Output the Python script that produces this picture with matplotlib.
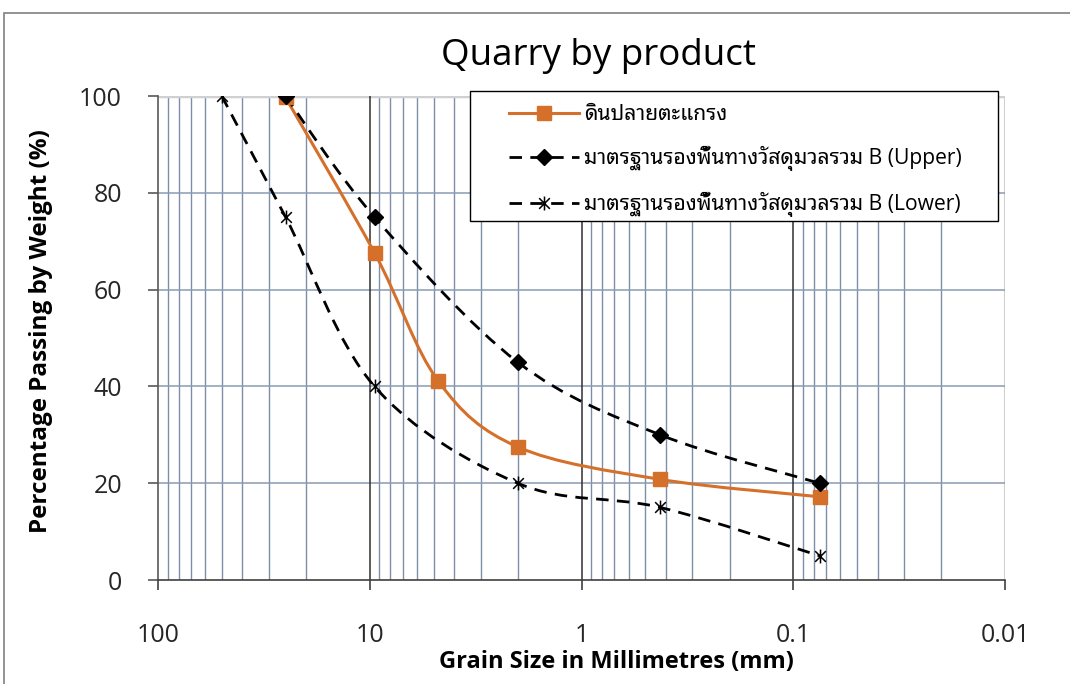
import matplotlib
matplotlib.use("Agg")
import matplotlib.pyplot as plt
import numpy as np
from matplotlib.path import Path
from matplotlib.patches import PathPatch, Rectangle
from matplotlib.lines import Line2D

plt.rcParams['font.family'] = ['Open Sans', 'Noto Sans Thai Looped', 'DejaVu Sans']

# sieve sizes (mm) and percent passing
size_sample = [25, 9.5, 4.75, 2.0, 0.425, 0.075]
pass_sample = [99.7, 67.6, 41.1, 27.5, 20.8, 17.2]
size_upper = [25, 9.5, 2.0, 0.425, 0.075]
pass_upper = [100, 75, 45, 30, 20]
size_lower = [50, 25, 9.5, 2.0, 0.425, 0.075]
pass_lower = [100, 75, 40, 20, 15, 5]

label_sample = "ดินปลายตะแกรง"
label_upper = "มาตรฐานรองพื้นทางวัสดุมวลรวม B (Upper)"
label_lower = "มาตรฐานรองพื้นทางวัสดุมวลรวม B (Lower)"

orange = "#D5702B"


def smooth_path(xs, ys):
    # bezier through the points (smoothed line), built in log-x space
    pts = np.column_stack([np.log10(xs), ys]).astype(float)
    n = len(pts)
    verts = [pts[0]]
    codes = [Path.MOVETO]
    for i in range(n - 1):
        p0 = pts[max(i - 1, 0)]
        p1 = pts[i]
        p2 = pts[i + 1]
        p3 = pts[min(i + 2, n - 1)]
        verts += [p1 + (p2 - p0) / 6, p2 - (p3 - p1) / 6, p2]
        codes += [Path.CURVE4] * 3
    verts = np.array(verts)
    verts[:, 0] = 10 ** verts[:, 0]
    return Path(verts, codes)


star = Path([(-1, -1), (1, 1), (-1, 1), (1, -1), (0, -1.3), (0, 1.3)],
            [Path.MOVETO, Path.LINETO, Path.MOVETO, Path.LINETO, Path.MOVETO, Path.LINETO])

fig = plt.figure(figsize=(10.7, 6.84), dpi=100)
ax = fig.add_axes([0.1477, 0.152, 0.7916, 0.7076])

ax.set_xscale("log")
ax.set_xlim(100, 0.01)
ax.set_ylim(0, 100)

# grid
for d in [100, 10, 1, 0.1]:
    for k in range(2, 10):
        ax.axvline(d * k / 10, color="#7D8EA8", lw=1.0, zorder=1)
for d in [10, 1, 0.1]:
    ax.axvline(d, color="#303030", lw=1.1, zorder=1.1)
ax.axvline(0.01, color="#D0D0D0", lw=1.5, zorder=1)
for v in [20, 40, 60, 80]:
    ax.axhline(v, color="#8A9BB5", lw=1.1, zorder=1)
ax.axhline(100, color="#D0D0D0", lw=2.5, zorder=1)

dash = (0, (4.5, 3))
ax.add_patch(PathPatch(smooth_path(size_lower, pass_lower), fill=False, ec="black",
                       lw=2, linestyle=dash, zorder=3))
ax.add_patch(PathPatch(smooth_path(size_sample, pass_sample), fill=False, ec=orange,
                       lw=2.2, zorder=4))
ax.add_patch(PathPatch(smooth_path(size_upper, pass_upper), fill=False, ec="black",
                       lw=2, linestyle=dash, zorder=5))
ax.plot(size_lower, pass_lower, ls="none", marker=star, ms=10, mec="black", mew=1.1, zorder=6)
ax.plot(size_sample, pass_sample, ls="none", marker="s", ms=10, mfc=orange, mec=orange, zorder=7)
ax.plot(size_upper, pass_upper, ls="none", marker="D", ms=8, mfc="black", mec="black", zorder=8)

for s in ["top", "right"]:
    ax.spines[s].set_visible(False)
ax.spines["left"].set_color("#595959")
ax.spines["bottom"].set_color("#404040")
ax.spines["left"].set_linewidth(1.2)
ax.spines["bottom"].set_linewidth(1.2)

ax.set_xticks([100, 10, 1, 0.1, 0.01])
ax.set_xticklabels(["100", "10", "1", "0.1", "0.01"])
ax.xaxis.set_minor_locator(matplotlib.ticker.NullLocator())
ax.set_yticks([0, 20, 40, 60, 80, 100])
ax.tick_params(axis="x", length=7, width=1.2, color="#404040", pad=24, labelsize=18, labelcolor="#262626")
ax.tick_params(axis="y", length=7, width=1.2, color="#595959", pad=19, labelsize=18, labelcolor="#262626")

ax.set_xlabel("Grain Size in Millimetres (mm)", fontsize=17, fontweight="bold")
ax.set_ylabel("Percentage Passing by Weight (%)", fontsize=17.5, fontweight="bold")
ax.xaxis.set_label_coords(0.541, -0.145)
ax.yaxis.set_label_coords(-0.124, 0.515)
fig.text(0.559, 0.918, "Quarry by product", fontsize=26.5, ha="center", va="center")

handles = [
    Line2D([], [], color=orange, lw=2.2, marker="s", ms=10, mfc=orange, mec=orange),
    Line2D([], [], color="black", lw=2, ls=dash, marker="D", ms=8, mfc="black"),
    Line2D([], [], color="black", lw=2, ls=dash, marker=star, ms=10, mew=1.1),
]
leg = fig.legend(handles, [label_sample, label_upper, label_lower], loc="upper left",
                 bbox_to_anchor=(509 / 1070, 1 - 104 / 684), fontsize=15.2, frameon=False,
                 numpoints=1, handlelength=3.3, handletextpad=0.25, borderpad=0,
                 labelspacing=1.0, borderaxespad=0)
leg.set_zorder(10)
fig.patches.append(Rectangle((470 / 1070, 1 - 221 / 684), 528 / 1070, 130 / 684,
                             transform=fig.transFigure, fc="white", ec="black", lw=1.0, zorder=9))

fig.patches.append(Rectangle((0.004, -0.05), 1.1, 1.031, transform=fig.transFigure,
                             fill=False, ec="#808080", lw=1.2))

fig.savefig("out.png", dpi=100)
